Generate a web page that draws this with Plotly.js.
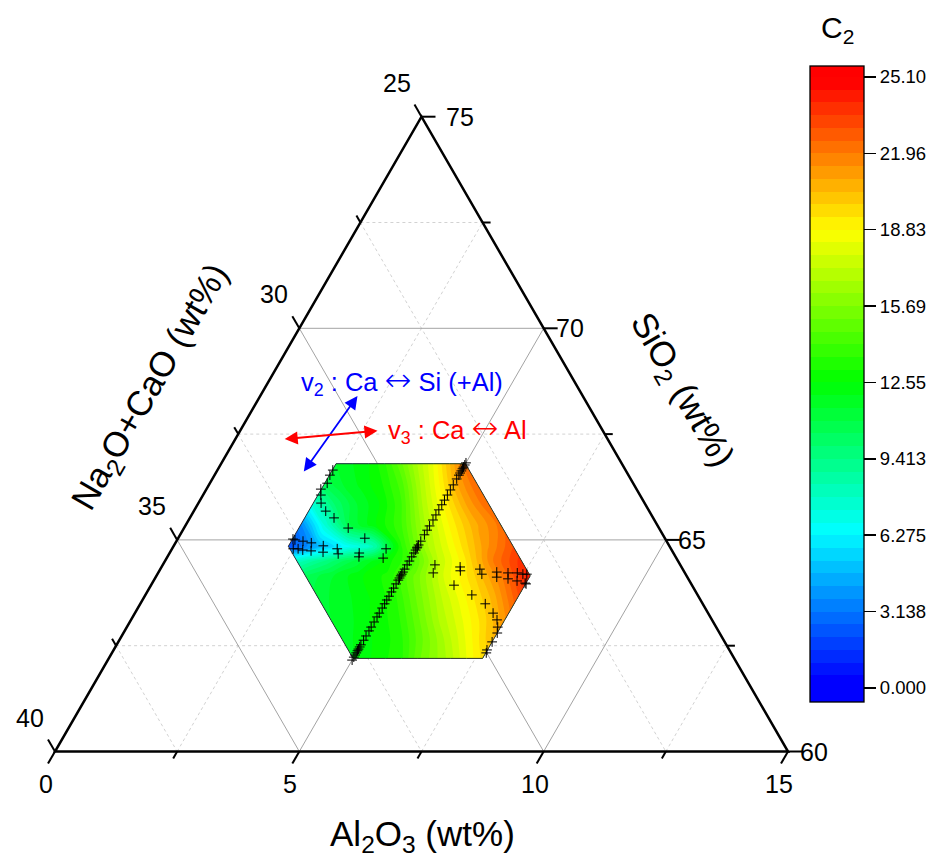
<!DOCTYPE html>
<html><head><meta charset="utf-8">
<script src="https://cdn.plot.ly/plotly-3.0.1.min.js"></script>
<style>html,body{margin:0;padding:0;background:#fff}#chart{width:947px;height:857px}</style>
</head><body><div id="chart"></div>
<script>
// ================= DATA =================
// ternary axes (wt%)
const alTicks = [0, 5, 10, 15];        // Al2O3
const siTicks = [60, 65, 70, 75];      // SiO2
const naTicks = [25, 30, 35, 40];      // Na2O+CaO
const alMinor = [2.5, 7.5, 12.5];
const siMinor = [62.5, 67.5, 72.5];
const naMinor = [27.5, 32.5, 37.5];

// composition domain of the mapped field (hexagon), wt%
const hexAl = [2.35, 7.65];
const hexSi = [62.2, 66.8];
const hexNa = [28.2, 32.8];

// C2 field sampled on rows of SiO2, across the hexagon (fraction from left boundary to right boundary)
const gridSi = [62.2, 62.65, 63.1, 63.6, 64.15, 64.5, 64.85, 65.35, 65.85, 66.3, 66.8];
const gridU  = [0, 0.125, 0.25, 0.375, 0.5, 0.625, 0.75, 0.875, 1];
const c2 = [
  [12.0, 12.5, 13.0, 13.5, 15.0, 16.0, 17.0, 18.3, 19.5],
  [11.8, 12.2, 12.8, 13.3, 14.8, 16.2, 17.6, 19.0, 20.5],
  [11.5, 12.0, 12.7, 13.3, 15.0, 16.8, 18.2, 19.6, 21.3],
  [11.3, 11.8, 12.5, 13.3, 15.3, 17.3, 18.9, 20.5, 22.8],
  [10.5, 11.5, 12.5, 13.3, 15.5, 18.0, 19.8, 22.0, 24.5],
  [ 8.0,  9.5, 11.0, 12.5, 14.0, 17.2, 19.3, 22.0, 23.8],
  [ 2.0,  4.5,  6.5,  8.0, 13.5, 16.8, 19.0, 21.2, 23.0],
  [ 3.5,  7.5, 11.0, 12.5, 14.0, 16.8, 19.0, 20.8, 22.2],
  [ 7.5, 10.0, 11.5, 12.5, 14.0, 16.8, 19.0, 21.0, 22.5],
  [10.5, 11.5, 12.2, 13.0, 14.3, 16.7, 18.8, 21.0, 22.5],
  [11.5, 12.0, 12.5, 13.5, 15.0, 16.7, 18.3, 20.3, 22.3]
];

// colour bar
const cbTickVals = [0, 3.1375, 6.275, 9.4125, 12.55, 15.6875, 18.825, 21.9625, 25.1];
const cbTickText = ['0.000', '3.138', '6.275', '9.413', '12.55', '15.69', '18.83', '21.96', '25.10'];

// sampled compositions (+ markers)
const diagSi = [62.16, 62.23, 62.28, 62.33, 62.38, 62.42, 62.47, 62.52, 62.63, 62.73, 62.85, 62.94, 63.06, 63.18,
  63.27, 63.39, 63.49, 63.58, 63.67, 63.77, 63.86, 63.96, 64.05, 64.10, 64.15, 64.19, 64.24, 64.31, 64.41, 64.50,
  64.60, 64.69, 64.76, 64.81, 64.83, 64.88, 64.97, 65.12, 65.23, 65.33, 65.47, 65.59, 65.71, 65.83, 65.94, 66.06,
  66.18, 66.30, 66.44, 66.53, 66.58, 66.63, 66.68, 66.72, 66.77, 66.82];
const diagAl = [5.00, 5.00, 5.00, 5.00, 5.00, 5.00, 5.00, 5.00, 5.00, 5.00, 5.00, 5.00, 5.00, 5.00,
  5.00, 5.00, 5.00, 5.00, 5.00, 5.00, 5.00, 5.00, 5.00, 5.00, 5.00, 5.00, 5.00, 5.00, 5.00, 5.00,
  5.00, 5.00, 5.00, 5.00, 5.00, 5.00, 5.00, 5.00, 5.00, 5.00, 5.00, 5.00, 5.00, 5.00, 5.00, 5.00,
  5.00, 5.00, 5.00, 5.00, 5.00, 5.00, 5.00, 5.00, 5.00, 5.00];

const rowAAl = [2.36, 2.41, 2.59, 2.78, 3.06, 3.38, 3.88, 5.57, 6.11, 6.54, 6.92, 7.16, 7.35, 7.48, 7.56];
const rowASi = [65.02, 65.00, 64.97, 64.93, 64.86, 64.79, 64.69, 64.41, 64.36, 64.31, 64.24, 64.22, 64.22, 64.19, 64.19];
const rowBAl = [2.48, 2.58, 2.69, 2.87, 3.13, 3.46, 3.92, 4.43, 5.63, 6.16, 6.64, 6.98, 7.23, 7.44, 7.63, 7.66];
const rowBSi = [64.79, 64.79, 64.76, 64.74, 64.71, 64.67, 64.60, 64.57, 64.22, 64.27, 64.19, 64.12, 64.08, 64.03, 63.98, 63.96];

const curveLAl = [2.36, 2.36, 2.40, 2.34, 2.41, 2.51, 2.70, 2.95, 3.36, 3.82, 4.38];
const curveLSi = [66.65, 66.53, 66.34, 66.20, 66.06, 65.87, 65.68, 65.52, 65.28, 65.04, 64.79];
const curveRAl = [6.20, 6.68, 7.06, 7.33, 7.49, 7.59, 7.65, 7.65, 7.64, 7.66];
const curveRSi = [63.93, 63.70, 63.49, 63.27, 63.11, 62.94, 62.80, 62.59, 62.40, 62.33];

// substitution vectors (Al2O3, SiO2 at the two arrow tips)
const v2Al = [1.99, 1.78], v2Si = [68.40, 66.58];
const v3Al = [2.81, 0.98], v3Si = [67.58, 67.38];

// ================= GEOMETRY (ternary -> plane) =================
const S3 = Math.sqrt(3) / 2;
const TX = (al, si) => al + 0.5 * (si - 60);
const TY = si => (si - 60) * S3;
const P = (al, si) => [TX(al, si), TY(si)];
const PX = 48.867;                       // pixels per wt%
const FONT = 'Arial, "Liberation Sans", sans-serif';

// carpet grid over the hexagon
const gx = [], gy = [];
gridSi.forEach(si => {
  const aL = Math.max(hexAl[0], 100 - si - hexNa[1]);
  const aR = Math.min(hexAl[1], 100 - si - hexNa[0]);
  gx.push(gridU.map(u => TX(aL + u * (aR - aL), si)));
  gy.push(gridU.map(() => TY(si)));
});

// ================= SHAPES (grid, frame, ticks) =================
const shapes = [];
function seg(p, q, line) {
  shapes.push({type: 'line', xref: 'x', yref: 'y', layer: 'below',
    x0: p[0], y0: p[1], x1: q[0], y1: q[1], line: line});
}
const majorLine = {color: '#a3a3a3', width: 1};
const minorLine = {color: '#d2d2d2', width: 1, dash: '3px,3px'};
const inner = arr => arr.slice(1, -1);

siMinor.forEach(v => seg(P(0, v), P(75 - v, v), minorLine));
alMinor.forEach(v => seg(P(v, 60), P(v, 75 - v), minorLine));
naMinor.forEach(v => seg(P(0, 100 - v), P(40 - v, 60), minorLine));
inner(siTicks).forEach(v => seg(P(0, v), P(75 - v, v), majorLine));
inner(alTicks).forEach(v => seg(P(v, 60), P(v, 75 - v), majorLine));
inner(naTicks).forEach(v => seg(P(0, 100 - v), P(40 - v, 60), majorLine));

const tickLine = {color: '#000', width: 2};
const TL = 14 / PX, TLm = 8 / PX;
naTicks.forEach(v => { const b = P(0, 100 - v); seg(b, [b[0] - 0.5 * TL, b[1] + S3 * TL], tickLine); });
naMinor.forEach(v => { const b = P(0, 100 - v); seg(b, [b[0] - 0.5 * TLm, b[1] + S3 * TLm], tickLine); });
siTicks.forEach(v => { const b = P(75 - v, v); seg(b, [b[0] + TL, b[1]], tickLine); });
siMinor.forEach(v => { const b = P(75 - v, v); seg(b, [b[0] + TLm, b[1]], tickLine); });
alTicks.forEach(v => { const b = P(v, 60); seg(b, [b[0] - 0.5 * TL, b[1] - S3 * TL], tickLine); });
alMinor.forEach(v => { const b = P(v, 60); seg(b, [b[0] - 0.5 * TLm, b[1] - S3 * TLm], tickLine); });

const c0 = P(0, 60), c1 = P(15, 60), c2v = P(0, 75);
shapes.push({type: 'path', xref: 'x', yref: 'y', layer: 'below',
  path: `M${c0[0]},${c0[1]} L${c1[0]},${c1[1]} L${c2v[0]},${c2v[1]} Z`,
  line: {color: '#000', width: 2.5}});

// ================= ANNOTATIONS =================
const ann = [];
const tickFont = {family: FONT, size: 25, color: '#000'};
naTicks.forEach(v => { const b = P(0, 100 - v);
  ann.push({x: b[0], y: b[1], xref: 'x', yref: 'y', text: String(v), showarrow: false,
    xanchor: 'center', yanchor: 'middle', xshift: -25, yshift: 34, font: tickFont}); });
siTicks.forEach(v => { const b = P(75 - v, v);
  ann.push({x: b[0], y: b[1], xref: 'x', yref: 'y', text: String(v), showarrow: false,
    xanchor: 'left', yanchor: 'middle', xshift: v === 75 ? 22 : 10, yshift: 0, font: tickFont}); });
alTicks.forEach(v => { const b = P(v, 60);
  ann.push({x: b[0], y: b[1], xref: 'x', yref: 'y', text: String(v), showarrow: false,
    xanchor: 'center', yanchor: 'middle', xshift: -9, yshift: -32, font: tickFont}); });

const titleFont = {family: FONT, size: 35, color: '#000'};
function paperText(px, py, text, font, angle) {
  ann.push({xref: 'paper', yref: 'paper', x: px / 947, y: 1 - py / 857, xanchor: 'center', yanchor: 'middle',
    text: text, textangle: angle || 0, showarrow: false, font: font});
}
paperText(422, 836, 'Al<sub>2</sub>O<sub>3</sub> (wt%)', titleFont);
paperText(151, 388, 'Na<sub>2</sub>O+CaO (wt%)', titleFont, -60);
paperText(681, 390, 'SiO<sub>2</sub> (wt%)', titleFont, 60);
paperText(837, 30, 'C<sub>2</sub>', {family: FONT, size: 30, color: '#000'});

function dblArrow(al, si, color) {
  const h = P(al[0], si[0]), t = P(al[1], si[1]);
  ann.push({x: h[0], y: h[1], ax: t[0], ay: t[1], xref: 'x', yref: 'y', axref: 'x', ayref: 'y',
    text: '', showarrow: true, arrowside: 'end+start', arrowhead: 2, startarrowhead: 2,
    arrowsize: 1.45, startarrowsize: 1.45, arrowwidth: 1.8, arrowcolor: color, standoff: 0, startstandoff: 0});
}
dblArrow(v2Al, v2Si, '#0000ff');
dblArrow(v3Al, v3Si, '#ff0000');
const ARROW = '<span style="font-family:\'DejaVu Sans\';font-weight:200;font-size:32px">↔</span>';
ann.push({xref: 'x', yref: 'y', x: (299 - 55) / PX, y: (751.5 - 380) / PX, xanchor: 'left', yanchor: 'middle',
  text: 'v<sub>2</sub> : Ca ' + ARROW + ' Si (+Al)', showarrow: false, font: {family: FONT, size: 25.5, color: '#0000ff'}});
ann.push({xref: 'x', yref: 'y', x: (386 - 55) / PX, y: (751.5 - 428) / PX, xanchor: 'left', yanchor: 'middle',
  text: 'v<sub>3</sub> : Ca ' + ARROW + ' Al', showarrow: false, font: {family: FONT, size: 25.5, color: '#ff0000'}});

// ================= TRACES =================
const zmin = -0.575, zmax = 25.55;
const f = v => (v - zmin) / (zmax - zmin);
const colorscale = [
  [0, 'rgb(0,0,255)'], [f(0), 'rgb(0,0,255)'], [f(6.275), 'rgb(0,255,255)'],
  [f(12.55), 'rgb(0,255,0)'], [f(18.825), 'rgb(255,255,0)'], [f(25.1), 'rgb(255,0,0)'], [1, 'rgb(255,0,0)']
];
const carpetAxis = {showgrid: false, gridcolor: 'rgba(0,0,0,0)', gridwidth: 0, minorgridcount: 0,
  showticklabels: 'none', showline: false, startline: true, endline: true,
  startlinecolor: '#333', endlinecolor: '#333', startlinewidth: 1, endlinewidth: 1, smoothing: 0,
  title: {text: ''}};

const markerStyle = {symbol: 'cross-thin', size: 7, color: '#000', line: {width: 1, color: '#000'}};
function markers(al, si) {
  return {type: 'scatter', mode: 'markers', x: al.map((a, i) => TX(a, si[i])), y: si.map(TY),
    marker: markerStyle, showlegend: false, hoverinfo: 'skip'};
}

const data = [
  {type: 'carpet', carpet: 'hex', a: gridU, b: gridSi, x: gx, y: gy, aaxis: carpetAxis, baxis: carpetAxis},
  {type: 'contourcarpet', carpet: 'hex', z: c2, autocontour: false,
    contours: {start: 0, end: 25.1, size: 25.1 / 48, coloring: 'fill', showlines: false},
    line: {width: 0}, zauto: false, zmin: zmin, zmax: zmax, colorscale: colorscale,
    colorbar: {x: 810 / 947, xanchor: 'left', xpad: 0, ypad: 0, y: 1 - 384 / 857, yanchor: 'middle',
      len: 636, lenmode: 'pixels', thickness: 54, thicknessmode: 'pixels',
      outlinewidth: 1.3, outlinecolor: '#000', tickmode: 'array', tickvals: cbTickVals, ticktext: cbTickText,
      ticks: 'outside', ticklen: 12, tickwidth: 1.5, tickcolor: '#000',
      tickfont: {family: FONT, size: 18.5, color: '#000'}}},
  markers(diagAl, diagSi),
  markers(rowAAl, rowASi),
  markers(rowBAl, rowBSi),
  markers(curveLAl, curveLSi),
  markers(curveRAl, curveRSi)
];

const layout = {
  width: 947, height: 857, paper_bgcolor: '#fff', plot_bgcolor: '#fff',
  margin: {l: 0, r: 0, t: 0, b: 0, pad: 0, autoexpand: false},
  showlegend: false, font: {family: FONT, size: 14, color: '#000'},
  xaxis: {range: [-55 / PX, (947 - 55) / PX], visible: false, showgrid: false, zeroline: false, fixedrange: true},
  yaxis: {range: [-(857 - 751.5) / PX, 751.5 / PX], visible: false, showgrid: false, zeroline: false, fixedrange: true},
  shapes: shapes, annotations: ann
};

Plotly.newPlot('chart', data, layout, {staticPlot: true, displayModeBar: false});
</script>
</body></html>
